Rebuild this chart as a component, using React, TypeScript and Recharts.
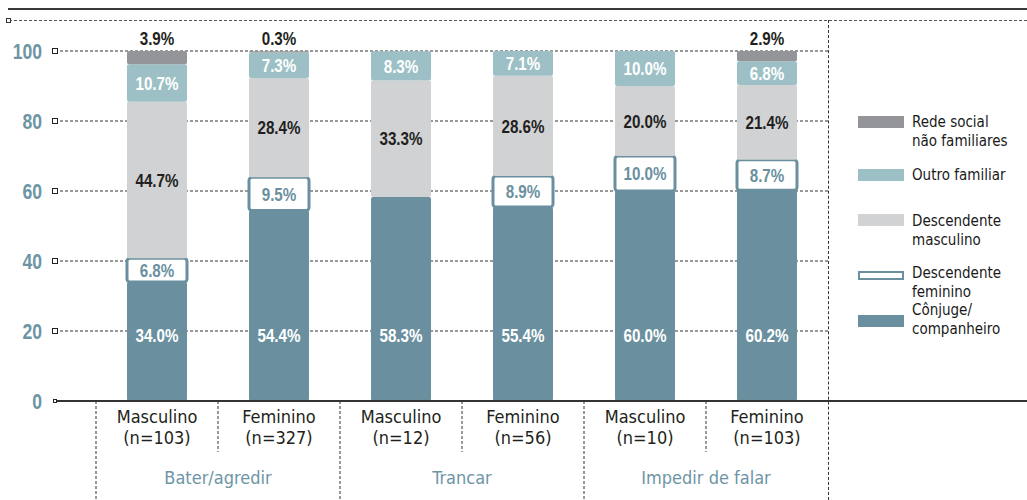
import React from 'react';
import { BarChart, Bar, XAxis, YAxis, CartesianGrid, LabelList } from 'recharts';

// categories
const groups = ['Bater/agredir', 'Trancar', 'Impedir de falar'];
const sexes = ['Masculino', 'Feminino', 'Masculino', 'Feminino', 'Masculino', 'Feminino'];
const sampleSizes = ['(n=103)', '(n=327)', '(n=12)', '(n=56)', '(n=10)', '(n=103)'];

// series values (%), bottom to top of each stack
const conjuge = [34.0, 54.4, 58.3, 55.4, 60.0, 60.2];
const descFeminino = [6.8, 9.5, 0, 8.9, 10.0, 8.7];
const descMasculino = [44.7, 28.4, 33.3, 28.6, 20.0, 21.4];
const outroFamiliar = [10.7, 7.3, 8.3, 7.1, 10.0, 6.8];
const redeSocial = [3.9, 0.3, 0, 0, 0, 2.9];

const yTicks = [0, 20, 40, 60, 80, 100];

const data = sexes.map((sex, i) => ({
  key: 'c' + i,
  sex,
  n: sampleSizes[i],
  group: groups[Math.floor(i / 2)],
  conjuge: conjuge[i],
  descFeminino: descFeminino[i],
  descMasculino: descMasculino[i],
  outroFamiliar: outroFamiliar[i],
  redeSocial: redeSocial[i]
}));

const BLUE = '#6a909f';
const AXIS_BLUE = '#6d95a5';
const TEXT = '#231f20';
const ARIAL = "'Liberation Sans', Arial, sans-serif";
const COND = "'DejaVu Sans Condensed', 'DejaVu Sans', sans-serif";

const W = 1027;
const H = 500;
const PLOT_LEFT = 55;
const PLOT_RIGHT = 828;
const PAD_LEFT = 41;
const BAND = (PLOT_RIGHT - PLOT_LEFT - PAD_LEFT) / data.length;

const legendItems = [
  { name: ['Rede social', 'não familiares'], fill: '#939598', textTop: 113, swatchTop: 116 },
  { name: ['Outro familiar'], fill: '#9cc0c5', textTop: 166, swatchTop: 169 },
  { name: ['Descendente', 'masculino'], fill: '#d1d2d4', textTop: 212, swatchTop: 214 },
  { name: ['Descendente', 'feminino'], fill: '#ffffff', stroke: BLUE, textTop: 264, swatchTop: 271 },
  { name: ['Cônjuge/', 'companheiro'], fill: BLUE, textTop: 301, swatchTop: 315 }
];

function fmt(v: number) {
  return v.toFixed(1) + '%';
}

// bold narrow text: Arial-like bold squeezed horizontally
function NarrowText({ x, y, anchor, color, size, children }: any) {
  return (
    <g transform={`translate(${x},${y}) scale(0.8,1)`}>
      <text
        x={0}
        y={0}
        textAnchor={anchor}
        dominantBaseline="central"
        fill={color}
        fontFamily={ARIAL}
        fontWeight="bold"
        fontSize={size}
      >
        {children}
      </text>
    </g>
  );
}

function box(props: any) {
  const vb = props.viewBox || {};
  return {
    x: props.x ?? vb.x,
    y: props.y ?? vb.y,
    width: props.width ?? vb.width,
    height: props.height ?? vb.height
  };
}

function makeLabel(color: string, mode: 'center' | 'bottom' | 'above') {
  return (props: any) => {
    const v = Number(props.value);
    if (!v) return null;
    const b = box(props);
    let cy = b.y + b.height / 2;
    if (mode === 'bottom') cy = b.y + b.height - 66;
    if (mode === 'above') cy = b.y - 13;
    return (
      <NarrowText x={b.x + b.width / 2} y={cy} anchor="middle" color={color} size={19}>
        {fmt(v)}
      </NarrowText>
    );
  };
}

function YTick(props: any) {
  const { x, y, payload } = props;
  const zero = payload.value === 0;
  return (
    <g>
      <NarrowText x={x - 13} y={y} anchor="end" color={AXIS_BLUE} size={22}>
        {payload.value}
      </NarrowText>
      {zero ? (
        <rect x={x - 1.5} y={y - 1.5} width={3} height={3} fill="#fff" stroke="#222" strokeWidth={1} />
      ) : (
        <rect x={x - 2.5} y={y - 2.5} width={5} height={5} fill="#fff" stroke="#222" strokeWidth={1} />
      )}
    </g>
  );
}

function XTick(props: any) {
  const { x, y, index } = props;
  const row = data[index];
  if (!row) return null;
  const left = x - BAND / 2;
  const groupStart = index % 2 === 0;
  return (
    <g>
      <line
        x1={left}
        x2={left}
        y1={y}
        y2={groupStart ? H : 452}
        stroke="#333"
        strokeWidth={1}
        strokeDasharray="3 2"
      />
      <text x={x} y={416} textAnchor="middle" dominantBaseline="central" fill={TEXT} fontFamily={COND} fontSize={18}>
        {row.sex}
      </text>
      <text x={x} y={437} textAnchor="middle" dominantBaseline="central" fill={TEXT} fontFamily={COND} fontSize={18}>
        {row.n}
      </text>
      {groupStart && (
        <text
          x={x + BAND / 2}
          y={477}
          textAnchor="middle"
          dominantBaseline="central"
          fill={AXIS_BLUE}
          fontFamily={COND}
          fontSize={18}
        >
          {row.group}
        </text>
      )}
    </g>
  );
}

export default function App() {
  return (
    <div style={{ position: 'absolute', left: 0, top: 0, width: W, height: H, background: '#fff', overflow: 'hidden' }}>
      {/* frame lines */}
      <div style={{ position: 'absolute', left: 8, right: 0, top: 8, height: 0, borderTop: '2px solid #3a3a3a' }} />
      <div style={{ position: 'absolute', left: 9, right: 0, top: 20, height: 0, borderTop: '1px dashed #555' }} />
      <div style={{ position: 'absolute', left: 6, top: 18, width: 3, height: 3, border: '1px solid #333', background: '#fff' }} />
      <div style={{ position: 'absolute', left: PLOT_RIGHT, top: 20, width: 0, bottom: 0, borderLeft: '1px dashed #333' }} />
      <div style={{ position: 'absolute', left: PLOT_RIGHT, right: 0, top: 400, height: 0, borderTop: '2px solid #333' }} />

      <BarChart
        width={W}
        height={H}
        data={data}
        margin={{ top: 51, right: W - PLOT_RIGHT, bottom: 0, left: 0 }}
        barSize={60}
      >
        <CartesianGrid vertical={false} stroke="#333" strokeDasharray="3 2" />
        <YAxis
          type="number"
          domain={[0, 100]}
          ticks={yTicks}
          allowDataOverflow
          width={PLOT_LEFT}
          axisLine={false}
          tickLine={false}
          tickSize={0}
          tickMargin={0}
          tick={<YTick />}
        />
        <XAxis
          dataKey="key"
          height={H - 401}
          padding={{ left: PAD_LEFT, right: 0 }}
          interval={0}
          tickLine={false}
          tickSize={0}
          tickMargin={0}
          axisLine={{ stroke: '#333', strokeWidth: 2 }}
          tick={<XTick />}
        />
        <Bar dataKey="conjuge" stackId="a" fill={BLUE} radius={2} isAnimationActive={false}>
          <LabelList dataKey="conjuge" content={makeLabel('#ffffff', 'bottom')} />
        </Bar>
        <Bar dataKey="descFeminino" stackId="a" fill="#ffffff" stroke={BLUE} strokeWidth={3} radius={3} isAnimationActive={false}>
          <LabelList dataKey="descFeminino" content={makeLabel(BLUE, 'center')} />
        </Bar>
        <Bar dataKey="descMasculino" stackId="a" fill="#d1d2d4" radius={2} isAnimationActive={false}>
          <LabelList dataKey="descMasculino" content={makeLabel(TEXT, 'center')} />
        </Bar>
        <Bar dataKey="outroFamiliar" stackId="a" fill="#9cc0c5" radius={2} isAnimationActive={false}>
          <LabelList dataKey="outroFamiliar" content={makeLabel('#ffffff', 'center')} />
        </Bar>
        <Bar dataKey="redeSocial" stackId="a" fill="#939598" radius={2} isAnimationActive={false}>
          <LabelList dataKey="redeSocial" content={makeLabel(TEXT, 'above')} />
        </Bar>
      </BarChart>

      {/* legend */}
      {legendItems.map((item) => (
        <React.Fragment key={item.name.join(' ')}>
          <div
            style={{
              position: 'absolute',
              left: 858,
              top: item.swatchTop,
              width: item.stroke ? 42 : 46,
              height: item.stroke ? 5 : 12,
              background: item.fill,
              border: item.stroke ? '2px solid ' + item.stroke : 'none'
            }}
          />
          <div
            style={{
              position: 'absolute',
              left: 912,
              top: item.textTop,
              fontFamily: COND,
              fontSize: 15,
              lineHeight: '19px',
              color: '#1a1a1a'
            }}
          >
            {item.name.map((line) => (
              <div key={line}>{line}</div>
            ))}
          </div>
        </React.Fragment>
      ))}
    </div>
  );
}
